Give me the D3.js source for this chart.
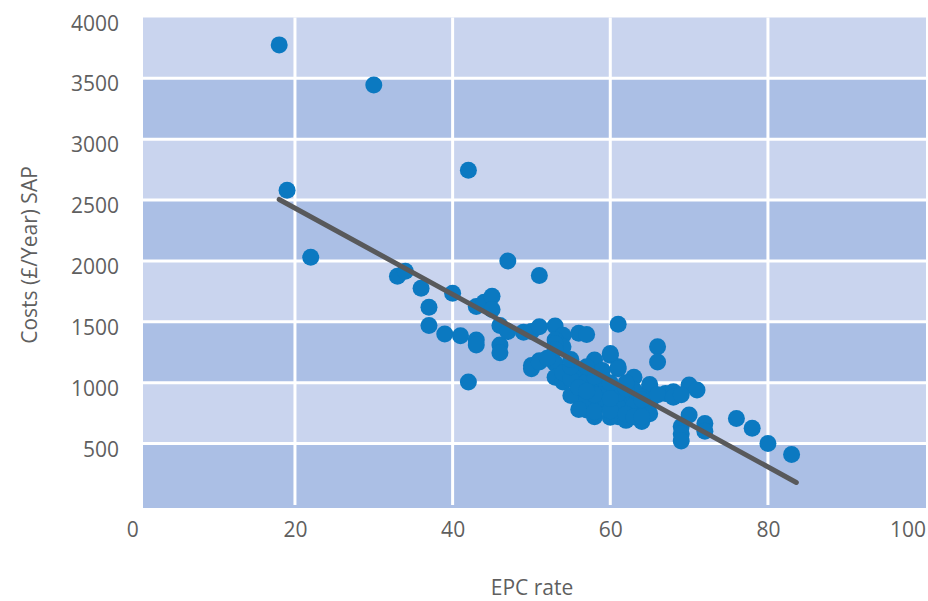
<!DOCTYPE html>
<html>
<head>
<meta charset="utf-8">
<script src="https://cdn.jsdelivr.net/npm/d3@7"></script>
<style>
  body { margin: 0; background: #fff; }
  text { font-family: "Open Sans", sans-serif; fill: #5f5f5f; }
</style>
</head>
<body>
<script>
// EPC rate vs SAP cost readings
var epcRate = [18, 30, 19, 22, 42, 47, 51, 33, 34, 36, 40, 37, 37, 39, 41, 43, 43, 43, 44, 45,
  45, 46, 46, 46, 42, 49, 50, 51, 53, 54, 56, 57, 53, 54, 53, 58, 60, 61, 51, 50,
  53, 50, 51, 53, 54, 56, 56, 57, 59, 59, 57, 58, 59, 61, 62, 66, 66, 61, 63, 65,
  65, 67, 68, 70, 71, 58, 61, 62, 64, 64, 65, 70, 69, 69, 69, 72, 72, 76, 78, 80,
  83, 55, 57, 59, 61, 63, 63, 60, 61, 56, 60, 62, 65, 53, 54, 55, 57, 58, 60, 62,
  64, 56, 58, 60, 62, 64, 66, 68, 69, 55, 57, 59, 55, 52, 47, 56, 58, 60, 62, 63,
  64, 60, 57];
var cost = [3775, 3445, 2580, 2030, 2745, 2000, 1880, 1875, 1915, 1775, 1735, 1620, 1470, 1400, 1385, 1350, 1310, 1625, 1660, 1710,
  1600, 1470, 1310, 1245, 1005, 1415, 1420, 1460, 1465, 1390, 1405, 1395, 1350, 1295, 1320, 1185, 1225, 1480, 1180, 1140,
  1160, 1115, 1170, 1045, 1005, 1075, 880, 980, 965, 1035, 775, 720, 830, 720, 855, 1295, 1170, 1130, 1045, 965,
  985, 910, 925, 980, 940, 800, 800, 705, 680, 775, 830, 735, 640, 580, 520, 665, 600, 705, 625, 500,
  410, 895, 855, 870, 910, 815, 940, 1240, 1115, 1100, 715, 690, 745, 1270, 1080, 1030, 1010, 900, 930, 950,
  880, 960, 1050, 1000, 1000, 860, 900, 880, 900, 1130, 1130, 1100, 1190, 1200, 1420, 780, 760, 770, 740, 720,
  720, 870, 930];

// trend line end points
var trendX = [18, 83.6];
var trendY = [2505, 180];

var xTicks = [0, 20, 40, 60, 80, 100];
var yTicks = [500, 1000, 1500, 2000, 2500, 3000, 3500, 4000];
var bandEdges = [0, 500, 1000, 1500, 2000, 2500, 3000, 3500, 4000];

var svgWidth = 928;
var svgHeight = 601;

var svg = d3.select("body")
  .append("svg")
  .attr("width", svgWidth)
  .attr("height", svgHeight);

var plotLeft = 143, plotRight = 926, plotTop = 17.5, plotBottom = 508;

var x = d3.scaleLinear().domain([0, 100]).range([137.3, 925.6]);
var y = d3.scaleLinear().domain([-30, 4000]).range([plotBottom, plotTop]);

// background bands
var bands = d3.range(bandEdges.length - 1).map(i => [bandEdges[i], bandEdges[i + 1]]);
svg.append("g").selectAll("rect")
  .data(bands)
  .enter()
  .append("rect")
  .attr("x", plotLeft)
  .attr("width", plotRight - plotLeft)
  .attr("y", d => y(d[1]))
  .attr("height", (d, i) => (i == 0 ? plotBottom : y(d[0])) - y(d[1]))
  .attr("fill", (d, i) => i % 2 == 0 ? "#abbfe5" : "#c9d4ee");

// gridlines
svg.append("g").selectAll("line")
  .data(yTicks.filter(t => t < 4000))
  .enter()
  .append("line")
  .attr("x1", plotLeft)
  .attr("x2", plotRight)
  .attr("y1", d => y(d))
  .attr("y2", d => y(d))
  .attr("stroke", "#fff")
  .attr("stroke-width", 3);

svg.append("g").selectAll("line")
  .data(xTicks.filter(t => t > 0 && t < 100))
  .enter()
  .append("line")
  .attr("x1", d => x(d))
  .attr("x2", d => x(d))
  .attr("y1", plotTop)
  .attr("y2", plotBottom - 3)
  .attr("stroke", "#fff")
  .attr("stroke-width", 3);

// points
var points = epcRate.map((e, i) => ({ e: e, c: cost[i] }));
svg.append("g").selectAll("circle")
  .data(points)
  .enter()
  .append("circle")
  .attr("cx", d => x(d.e))
  .attr("cy", d => y(d.c))
  .attr("r", 8.5)
  .attr("fill", "#0b79c1");

// trend line
svg.append("line")
  .attr("x1", x(trendX[0]))
  .attr("y1", y(trendY[0]))
  .attr("x2", x(trendX[1]))
  .attr("y2", y(trendY[1]))
  .attr("stroke", "#58595b")
  .attr("stroke-width", 5)
  .attr("stroke-linecap", "round");

// axes (no domain / ticks, labels only)
var yAxis = d3.axisLeft(y).tickValues(yTicks).tickFormat(d3.format("d")).tickSize(0).tickPadding(0);
var yg = svg.append("g")
  .attr("transform", "translate(119,0)")
  .call(yAxis);
yg.select(".domain").remove();
yg.selectAll("text")
  .attr("dy", "0.6em")
  .style("font-size", "21px")
  .style("font-family", "'Open Sans', sans-serif")
  .attr("fill", "#5f5f5f");

var xAxis = d3.axisBottom(x).tickValues(xTicks).tickFormat(d3.format("d")).tickSize(0).tickPadding(0);
var xg = svg.append("g")
  .attr("transform", "translate(0,522)")
  .call(xAxis);
xg.select(".domain").remove();
xg.selectAll("text")
  .style("font-size", "21px")
  .style("font-family", "'Open Sans', sans-serif")
  .attr("fill", "#5f5f5f")
  .attr("text-anchor", d => (d == 0 || d == 100) ? "end" : "middle")
  .attr("x", d => d == 0 ? 1 : 0);

// axis titles
svg.append("text")
  .attr("x", 532)
  .attr("y", 595)
  .attr("text-anchor", "middle")
  .style("font-size", "21px")
  .text("EPC rate");

svg.append("text")
  .attr("transform", "translate(37,255) rotate(-90)")
  .attr("text-anchor", "middle")
  .style("font-size", "21px")
  .text("Costs (£/Year) SAP");
</script>
</body>
</html>
